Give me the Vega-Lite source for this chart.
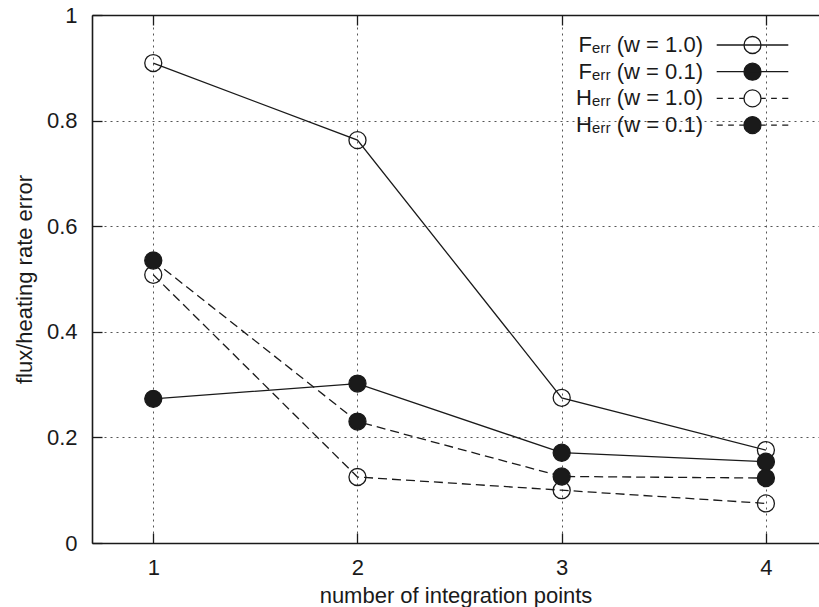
{
  "$schema": "https://vega.github.io/schema/vega-lite/v6.json",
  "width": 727,
  "height": 528,
  "autosize": {"type": "none"},
  "padding": {"left": 92, "top": 15, "right": 0, "bottom": 64},
  "config": {
    "view": {"stroke": null},
    "font": "Liberation Sans",
    "axis": {
      "domainColor": "#1a1a1a",
      "domainWidth": 1.6,
      "tickColor": "#1a1a1a",
      "tickWidth": 1.3,
      "tickSize": -10,
      "labelFontSize": 22,
      "labelColor": "#1a1a1a",
      "titleFontSize": 22,
      "titleFontWeight": "normal",
      "titleColor": "#1a1a1a",
      "gridColor": "#555555",
      "gridDash": [2, 4],
      "gridWidth": 1,
      "gridOpacity": 1
    }
  },
  "data": {
    "values": [
      {"series": "Fₑᵣᵣ (w = 1.0)", "points": 1, "error": 0.909},
      {"series": "Fₑᵣᵣ (w = 1.0)", "points": 2, "error": 0.763},
      {"series": "Fₑᵣᵣ (w = 1.0)", "points": 3, "error": 0.275},
      {"series": "Fₑᵣᵣ (w = 1.0)", "points": 4, "error": 0.176},
      {"series": "Fₑᵣᵣ (w = 0.1)", "points": 1, "error": 0.273},
      {"series": "Fₑᵣᵣ (w = 0.1)", "points": 2, "error": 0.302},
      {"series": "Fₑᵣᵣ (w = 0.1)", "points": 3, "error": 0.171},
      {"series": "Fₑᵣᵣ (w = 0.1)", "points": 4, "error": 0.154},
      {"series": "Hₑᵣᵣ (w = 1.0)", "points": 1, "error": 0.508},
      {"series": "Hₑᵣᵣ (w = 1.0)", "points": 2, "error": 0.125},
      {"series": "Hₑᵣᵣ (w = 1.0)", "points": 3, "error": 0.100},
      {"series": "Hₑᵣᵣ (w = 1.0)", "points": 4, "error": 0.075},
      {"series": "Hₑᵣᵣ (w = 0.1)", "points": 1, "error": 0.535},
      {"series": "Hₑᵣᵣ (w = 0.1)", "points": 2, "error": 0.230},
      {"series": "Hₑᵣᵣ (w = 0.1)", "points": 3, "error": 0.126},
      {"series": "Hₑᵣᵣ (w = 0.1)", "points": 4, "error": 0.123}
    ]
  },
  "resolve": {"axis": {"x": "independent", "y": "independent"}},
  "layer": [
    {
      "transform": [{"filter": "indexof(datum.series, 'F') == 0"}],
      "mark": {"type": "line", "color": "#1a1a1a", "strokeWidth": 1.3},
      "encoding": {
        "x": {
          "field": "points", "type": "quantitative",
          "scale": {"domain": [0.7, 4.26], "nice": false, "zero": false},
          "axis": {"orient": "bottom", "values": [1, 2, 3, 4], "format": "d", "grid": true, "labelPadding": 24, "title": "number of integration points", "titlePadding": 7}
        },
        "y": {
          "field": "error", "type": "quantitative",
          "scale": {"domain": [0, 1], "nice": false, "zero": false},
          "axis": {"orient": "left", "values": [0, 0.2, 0.4, 0.6, 0.8, 1], "format": "~g", "grid": true, "labelPadding": 25, "title": "flux/heating rate error", "titlePadding": 10}
        },
        "detail": {"field": "series", "type": "nominal"}
      }
    },
    {
      "transform": [{"filter": "indexof(datum.series, 'H') == 0"}],
      "mark": {"type": "line", "color": "#1a1a1a", "strokeWidth": 1.3, "strokeDash": [9, 5]},
      "encoding": {
        "x": {"field": "points", "type": "quantitative", "axis": null},
        "y": {"field": "error", "type": "quantitative", "axis": null},
        "detail": {"field": "series", "type": "nominal"}
      }
    },
    {
      "mark": {"type": "point", "filled": true, "size": 290, "stroke": "#1a1a1a", "strokeWidth": 1.3, "opacity": 1},
      "encoding": {
        "x": {"field": "points", "type": "quantitative", "axis": null},
        "y": {"field": "error", "type": "quantitative", "axis": null},
        "fill": {
          "field": "series", "type": "nominal", "title": null,
          "scale": {
            "domain": ["Fₑᵣᵣ (w = 1.0)", "Fₑᵣᵣ (w = 0.1)", "Hₑᵣᵣ (w = 1.0)", "Hₑᵣᵣ (w = 0.1)"],
            "range": ["transparent", "#1a1a1a", "transparent", "#1a1a1a"]
          },
          "legend": {
            "title": null,
            "orient": "none",
            "legendX": 649.5,
            "legendY": 19,
            "padding": 0,
            "rowPadding": 2.7,
            "labelAlign": "right",
            "labelBaseline": "middle",
            "labelOffset": -60.5,
            "labelFontSize": 22,
            "labelColor": "#1a1a1a",
            "labelLimit": 400,
            "symbolSize": 428,
            "symbolStrokeWidth": 1.3,
            "symbolStrokeColor": "#1a1a1a",
            "symbolOpacity": 1,
            "encode": {
              "symbols": {
                "update": {
                  "size": {"value": 428},
                  "stroke": {"value": "#1a1a1a"},
                  "strokeWidth": {"value": 1.3},
                  "opacity": {"value": 1},
                  "shape": {"signal": "indexof(datum.value, 'H') == 0 ? 'M-3.46,0L-2.873,0M-2.353,0L-1.8,0M-1.281,0L-0.822,0M0.822,0L1.281,0M1.8,0L2.353,0M2.873,0L3.46,0M0.822,0A0.822,0.822,0,1,1,-0.822,0A0.822,0.822,0,1,1,0.822,0' : 'M-3.46,0L3.46,0M0.822,0A0.822,0.822,0,1,1,-0.822,0A0.822,0.822,0,1,1,0.822,0'"}
                }
              }
            }
          }
        }
      }
    },
    {
      "transform": [{"filter": "false"}],
      "mark": {"type": "point", "filled": true, "size": 290, "stroke": "#1a1a1a", "strokeWidth": 1.3},
      "encoding": {
        "x": {
          "field": "points", "type": "quantitative",
          "axis": {"orient": "top", "values": [1, 2, 3, 4], "labels": false, "grid": false, "title": null, "ticks": true}
        },
        "y": {"field": "error", "type": "quantitative", "axis": null}
      }
    }
  ]
}
